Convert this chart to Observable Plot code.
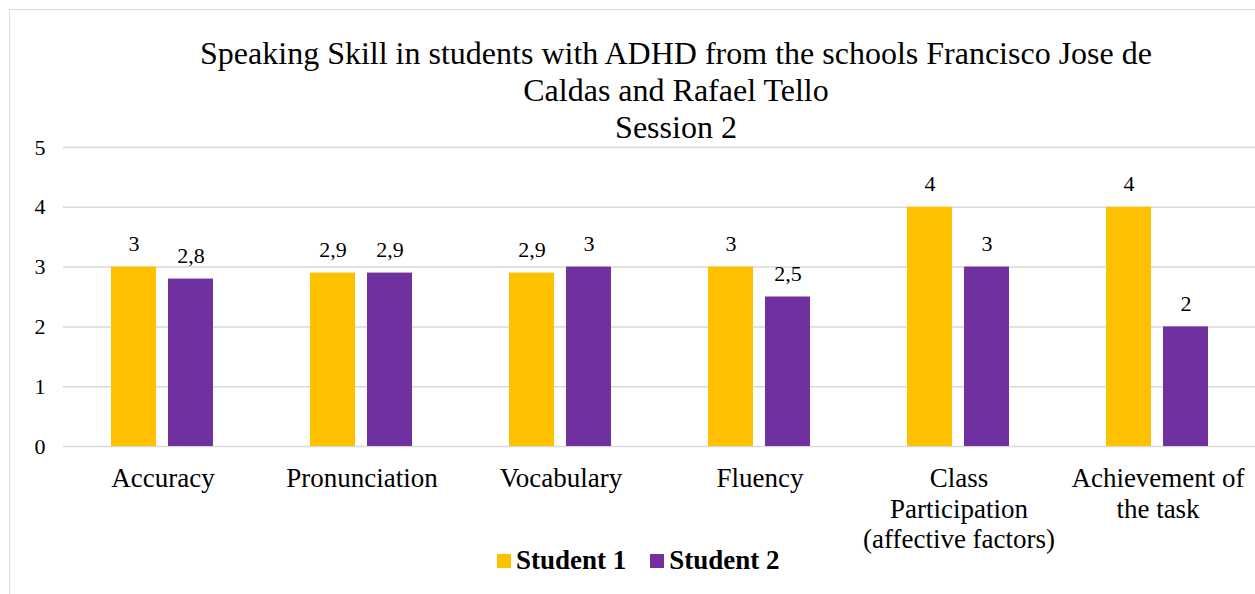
<!DOCTYPE html>
<html>
<head>
<meta charset="utf-8">
<script src="https://cdn.jsdelivr.net/npm/d3@7"></script>
<script src="https://cdn.jsdelivr.net/npm/@observablehq/plot@0.6"></script>
<style>
  html, body { margin: 0; padding: 0; background: #fff; overflow: hidden; }
  body { width: 1255px; height: 594px; position: relative; font-family: "Liberation Serif", "Times New Roman", serif; }
  #frame { position: absolute; left: 9px; top: 9px; width: 1400px; height: 700px; border: 1px solid #d9d9d9; box-sizing: border-box; }
  #title { position: absolute; left: 0; width: 1352px; top: 35px; text-align: center; font-size: 32px; line-height: 37px; color: #000; }
  #chart { position: absolute; left: 0; top: 0; width: 1257px; }
  #legend { position: absolute; top: 545px; left: 497px; font-size: 27px; font-weight: bold; display: flex; align-items: center; color: #000; white-space: nowrap; }
  .sw { display: inline-block; width: 14px; height: 14px; margin-right: 5px; }
  .item { display: flex; align-items: center; margin-right: 24px; }
</style>
</head>
<body>
<div id="frame"></div>
<div id="title">Speaking Skill in students with ADHD from the schools Francisco Jose de<br>Caldas and Rafael Tello<br>Session 2</div>
<div id="chart"></div>
<div id="legend"></div>
<script>
const categories = ["Accuracy", "Pronunciation", "Vocabulary", "Fluency", "Class\nParticipation\n(affective factors)", "Achievement of\nthe task"];
const seriesNames = ["Student 1", "Student 2"];
const student1 = [3, 2.9, 2.9, 3, 4, 4];
const student2 = [2.8, 2.9, 3, 2.5, 3, 2];
const colors = ["#FFC000", "#7030A0"];
const yTicks = [0, 1, 2, 3, 4, 5];

const data = [];
categories.forEach((c, i) => {
  data.push({category: c, student: seriesNames[0], value: student1[i]});
  data.push({category: c, student: seriesNames[1], value: student2[i]});
});

const fmt = v => String(v).replace(".", ",");
const font = '"Liberation Serif", "Times New Roman", serif';

const plot = Plot.plot({
  width: 1257,
  height: 594,
  marginTop: 147,
  marginBottom: 148,
  marginLeft: 63,
  marginRight: 0,
  style: {background: "transparent", fontFamily: font, color: "#000", maxWidth: "none"},
  fx: {domain: categories, paddingInner: 0, paddingOuter: 0, axis: null},
  x: {domain: seriesNames, paddingInner: 0.2105, paddingOuter: 0.848, axis: null},
  y: {domain: [0, 5], axis: null},
  color: {domain: seriesNames, range: colors},
  marks: [
    Plot.ruleY(yTicks, {stroke: "#d9d9d9", strokeWidth: 1.5}),
    Plot.barY(data, {fx: "category", x: "student", y: "value", fill: "student"}),
    Plot.text(data, {fx: "category", x: "student", y: "value", text: d => fmt(d.value), lineAnchor: "bottom", dy: -16, fontSize: 22, fill: "#000", fontFamily: font}),
    Plot.axisY(yTicks, {tickSize: 0, tickPadding: 18, fontSize: 22, tickFormat: d => String(d), label: null, fontFamily: font}),
    Plot.axisFx({anchor: "bottom", tickSize: 0, tickPadding: 18, fontSize: 27, lineHeight: 1.148, label: null, tickFormat: d => d, fontFamily: font})
  ]
});
document.getElementById("chart").appendChild(plot);

const legend = document.getElementById("legend");
seriesNames.forEach((s, i) => {
  const item = document.createElement("div");
  item.className = "item";
  const sw = document.createElement("span");
  sw.className = "sw";
  sw.style.background = colors[i];
  item.appendChild(sw);
  item.appendChild(document.createTextNode(s));
  legend.appendChild(item);
});
</script>
</body>
</html>
